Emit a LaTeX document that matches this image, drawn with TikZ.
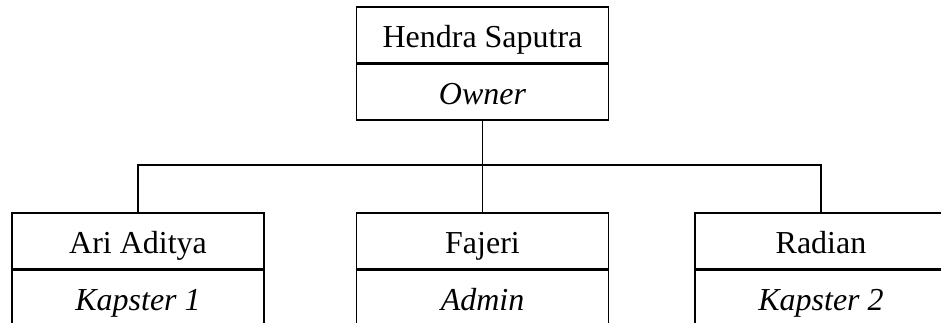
\documentclass[tikz,border=0pt]{standalone}
\usepackage{fontspec}
\setmainfont{Liberation Serif}
\usepackage{tikz}
\usetikzlibrary{positioning}

\tikzset{
	garis/.style={line width=1.1pt},
	nama/.style={draw, line width=1.1pt, minimum width=5.04cm, minimum height=1.11cm, inner sep=0pt, text height=17pt, text depth=2.4pt, font=\fontsize{18.2}{22}\selectfont},
	peran/.style={nama, font=\fontsize{18.2}{22}\selectfont\itshape}
}

\begin{document}
\begin{tikzpicture}[x=0.02cm, y=-0.02cm]
			%%%%% START %%%%%
			
			\useasboundingbox (0, 0) rectangle (941, 323);
			
			\node[nama] (hendra) at (482.5, 34.75) {Hendra Saputra};
			\node[peran, below=0pt of hendra] (owner) {Owner};
			
			\node[nama] (ari) at (138, 240.75) {Ari Aditya};
			\node[peran, below=0pt of ari] (kapster1) {Kapster 1};
			
			\node[nama] (fajeri) at (482.5, 240.75) {Fajeri};
			\node[peran, below=0pt of fajeri] (admin) {Admin};
			
			\node[nama] (radian) at (821, 240.75) {Radian};
			\node[peran, below=0pt of radian] (kapster2) {Kapster 2};
			
			\coordinate (cabang) at (482.5, 165);
			
			\draw[garis] (owner.south) -- (fajeri.north);
			\draw[garis] (ari.north) |- (cabang) -| (radian.north);
			
			%%%%% END %%%%%
		\end{tikzpicture}
\end{document}
